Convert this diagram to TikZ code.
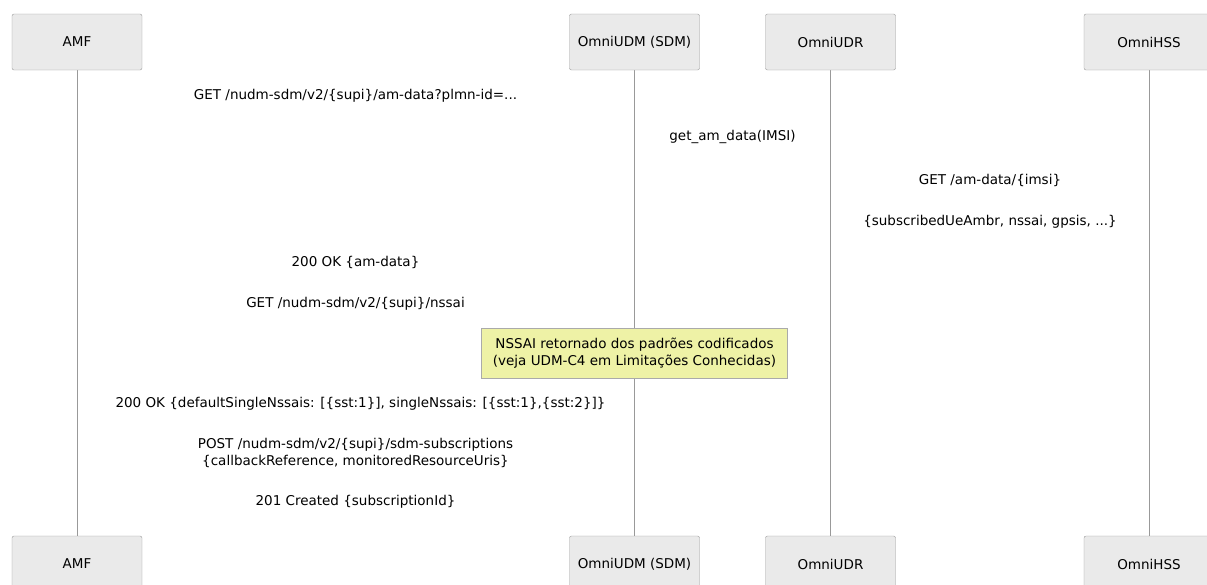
\documentclass[tikz,border=0pt]{standalone}
\usepackage{fontspec}
\setmainfont{DejaVu Sans}
\usepackage{tikz}
\definecolor{boxfill}{HTML}{EAEAEA}
\definecolor{boxline}{HTML}{999999}
\definecolor{notefill}{HTML}{EEF2A6}
\definecolor{noteline}{HTML}{AAAAAA}
\tikzstyle{actor} = [draw=boxline, fill=boxfill, rounded corners=2pt, minimum width=130pt, minimum height=56pt, inner sep=0pt, font=\fontsize{13.5}{16}\selectfont]
\tikzstyle{life} = [draw=boxline, line width=0.9pt]
\tikzstyle{msg} = [align=center, inner sep=0pt, font=\fontsize{13.5}{16.5}\selectfont]
\tikzstyle{note} = [draw=noteline, fill=notefill, align=center, minimum width=306pt, minimum height=50pt, inner sep=0pt, font=\fontsize{13.5}{16.5}\selectfont]

\begin{document}
\begin{tikzpicture}[x=1pt, y=-1pt]
	\useasboundingbox (0,0) rectangle (1207,584);
	\clip (0,0) rectangle (1207,584);
	% lifelines
	\coordinate (amfT) at (77,70);    \coordinate (amfB) at (77,536);
	\coordinate (udmT) at (634.5,70); \coordinate (udmB) at (634.5,536);
	\coordinate (udrT) at (830.5,70); \coordinate (udrB) at (830.5,536);
	\coordinate (hssT) at (1149,70);  \coordinate (hssB) at (1149,536);
	\draw[life] (amfT) -- (amfB);
	\draw[life] (udmT) -- (udmB);
	\draw[life] (udrT) -- (udrB);
	\draw[life] (hssT) -- (hssB);

	% participants
	\node[actor] (amf) at (77,42) {AMF};
	\node[actor] (udm) at (634.5,42) {OmniUDM (SDM)};
	\node[actor] (udr) at (830.5,42) {OmniUDR};
	\node[actor] (hss) at (1149,42) {OmniHSS};
	\node[actor] (amf2) at (77,564) {AMF};
	\node[actor] (udm2) at (634.5,564) {OmniUDM (SDM)};
	\node[actor] (udr2) at (830.5,564) {OmniUDR};
	\node[actor] (hss2) at (1149,564) {OmniHSS};

	% messages
	\node[msg] (getam) at (355.5,96) {GET /nudm-sdm/v2/\{supi\}/am-data?plmn-id=...};
	\node[msg] (getimsi) at (732.5,137) {get\_am\_data(IMSI)};
	\node[msg] (getudr) at (990,180) {GET /am-data/\{imsi\}};
	\node[msg] (udrresp) at (990,222) {\{subscribedUeAmbr, nssai, gpsis, ...\}};
	\node[msg] (amresp) at (355.5,262) {200 OK \{am-data\}};
	\node[msg] (getnssai) at (355.5,304) {GET /nudm-sdm/v2/\{supi\}/nssai};
	\node[note] (hint) at (634.5,353.3) {NSSAI retornado dos padrões codificados\\(veja UDM-C4 em Limitações Conhecidas)};
	\node[msg] (nssairesp) at (360.5,404) {200 OK \{defaultSingleNssais: [\{sst:1\}], singleNssais: [\{sst:1\},\{sst:2\}]\}};
	\node[msg] (postsub) at (355.5,453) {POST /nudm-sdm/v2/\{supi\}/sdm-subscriptions\\\{callbackReference, monitoredResourceUris\}};
	\node[msg] (subresp) at (355.5,502) {201 Created \{subscriptionId\}};
\end{tikzpicture}
\end{document}
